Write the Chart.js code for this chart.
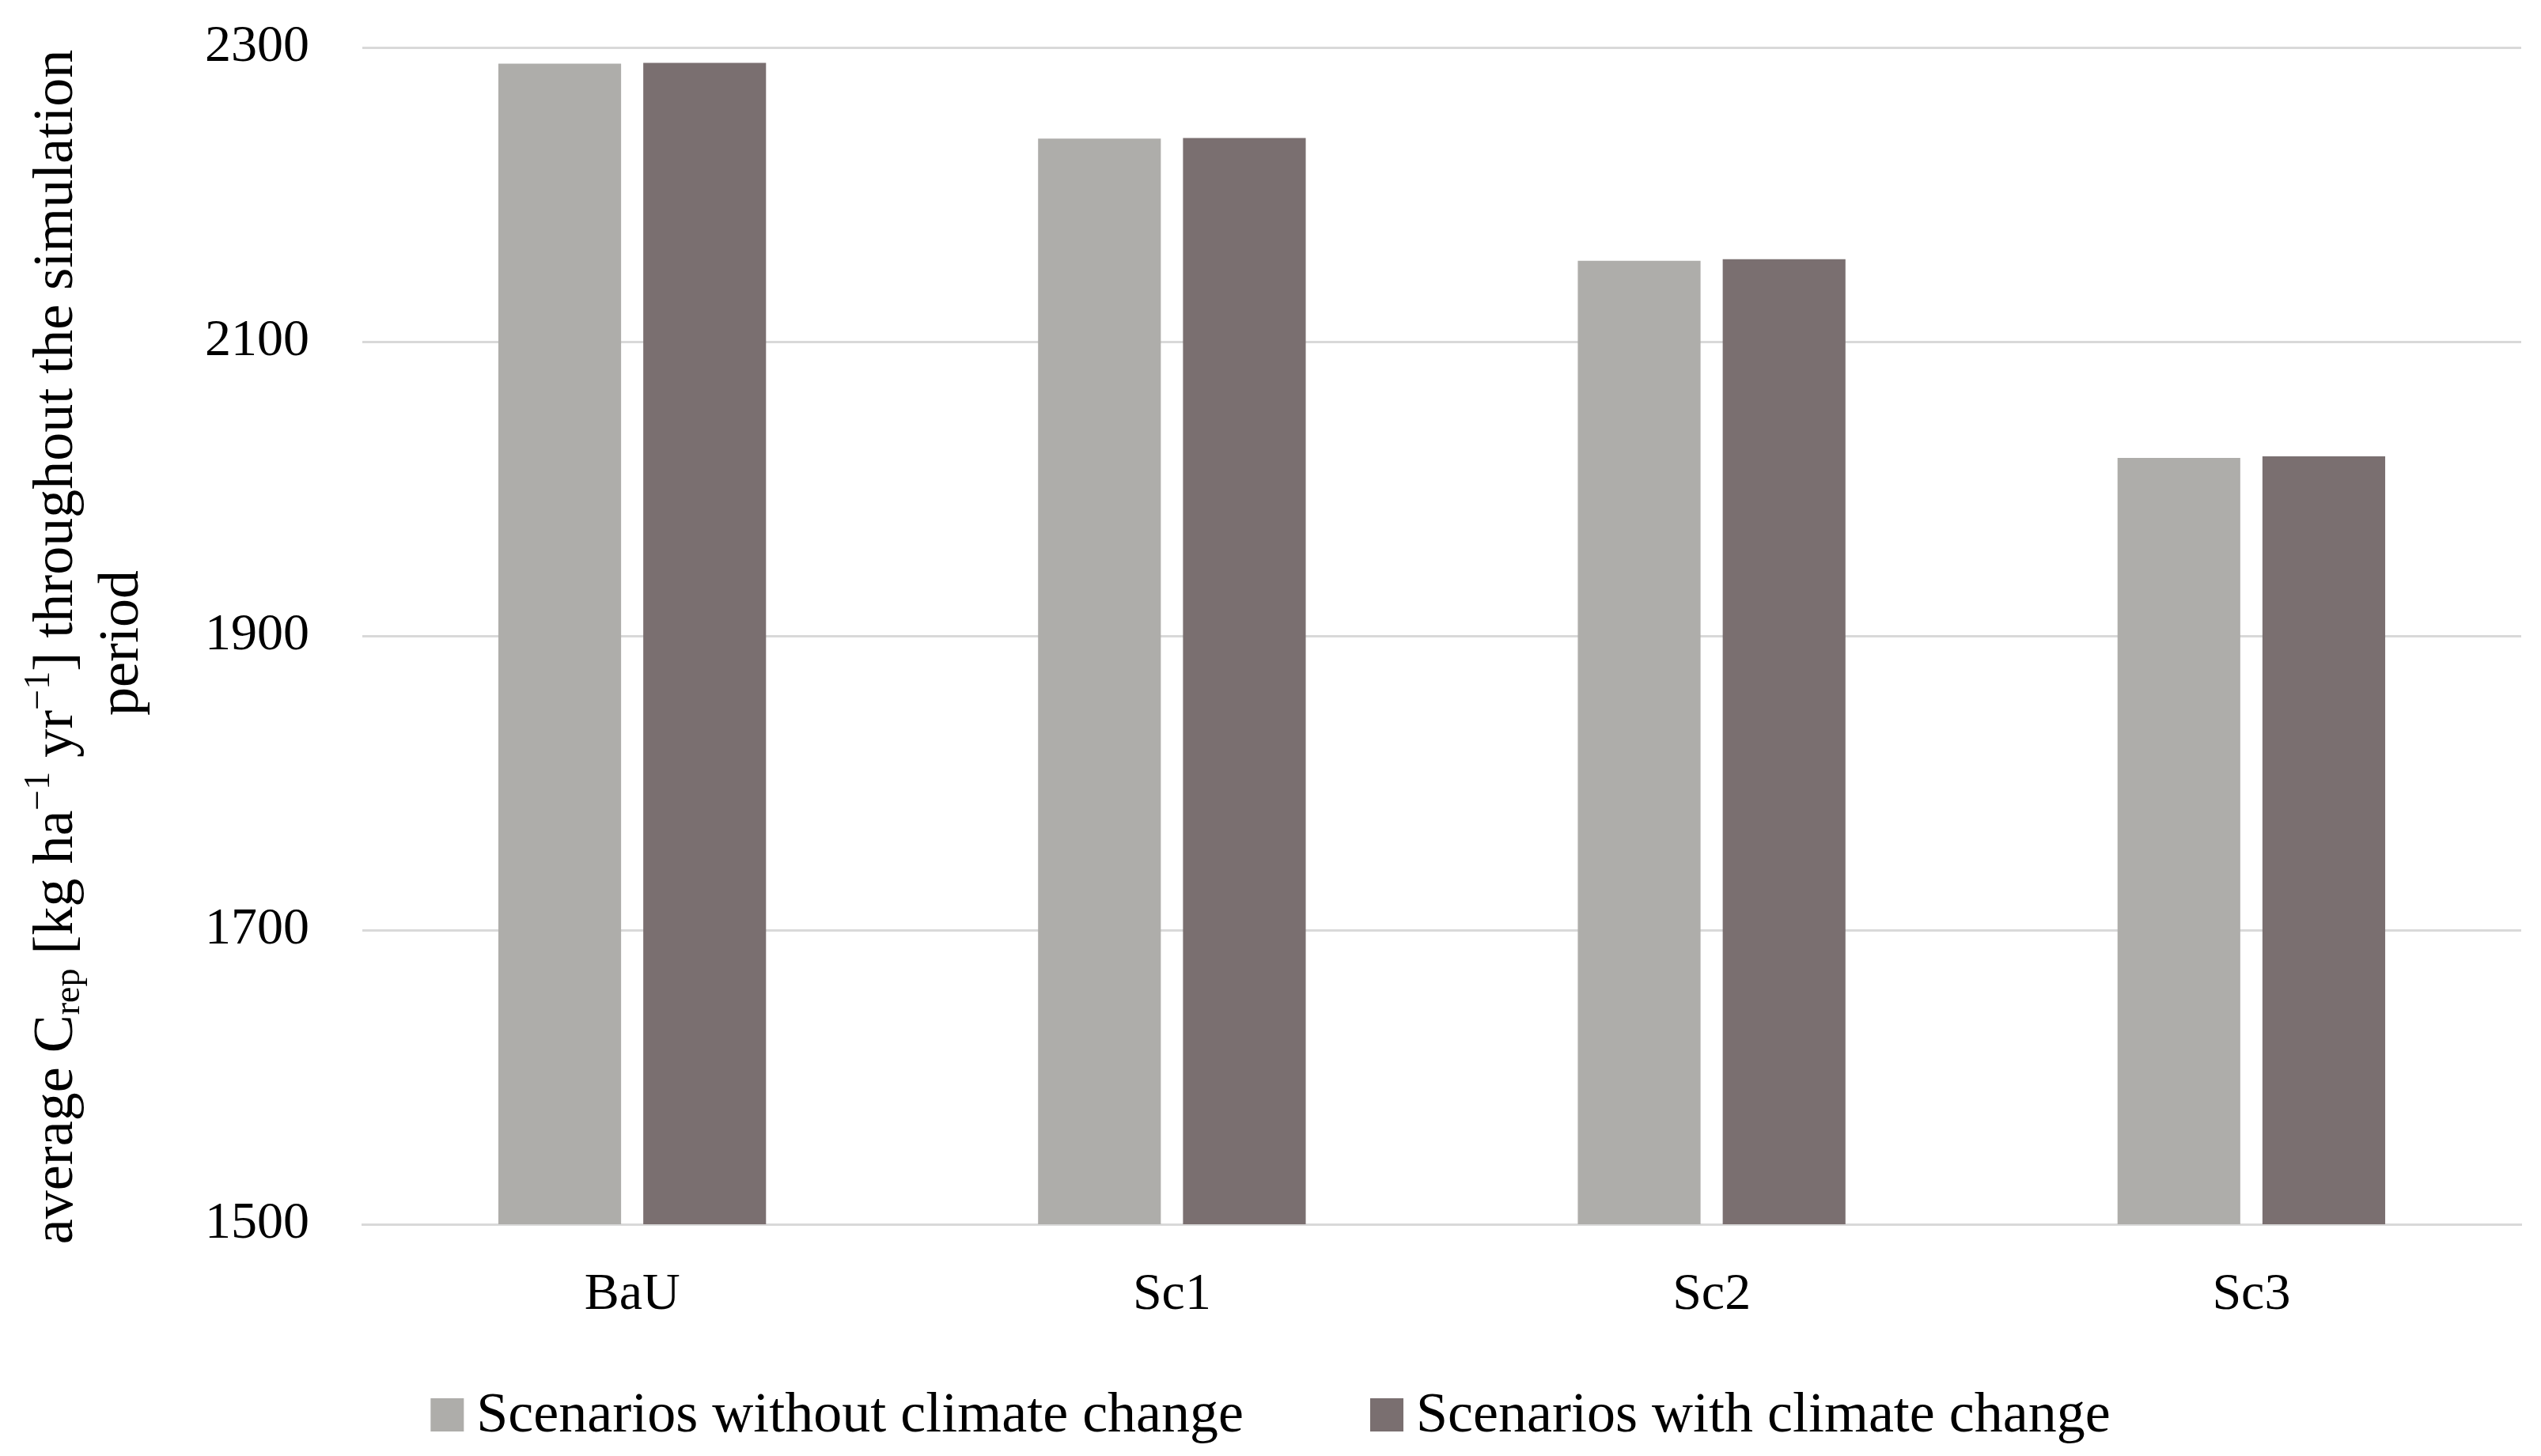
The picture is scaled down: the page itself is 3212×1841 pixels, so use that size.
<!DOCTYPE html>
<html>
<head>
<meta charset="utf-8">
<script src="https://cdn.jsdelivr.net/npm/chart.js@4/dist/chart.umd.min.js"></script>
<style>
html,body{margin:0;padding:0;background:#fff;}
#c{display:block;}
</style>
</head>
<body>
<canvas id="c" width="3212" height="1841"></canvas>
<script>
const categories = ["BaU", "Sc1", "Sc2", "Sc3"];
const withoutCC = [2289, 2238, 2155, 2021];
const withCC = [2289.5, 2238.5, 2156, 2022];
const seriesNames = ["Scenarios without climate change", "Scenarios with climate change"];
const seriesColors = ["#AEADAA", "#7A6F70"];
const yMin = 1500, yMax = 2300, yStep = 200;

const FONT = "'Liberation Serif', 'Times New Roman', serif";

const yTitlePlugin = {
  id: 'yTitle',
  afterDraw(chart) {
    const ctx = chart.ctx;
    const size = 72, small = 46;
    const segs = [
      {t: "average C", s: size, dy: 0},
      {t: "rep", s: small, dy: 16},
      {t: " [kg ha", s: size, dy: 0},
      {t: "\u22121", s: small, dy: -22},
      {t: " yr", s: size, dy: 0},
      {t: "\u22121", s: small, dy: -22},
      {t: "] throughout the simulation", s: size, dy: 0}
    ];
    ctx.save();
    ctx.fillStyle = '#000';
    ctx.textBaseline = 'middle';
    ctx.textAlign = 'left';
    ctx.translate(72, 818);
    ctx.rotate(-Math.PI / 2);
    let total = 0;
    segs.forEach(sg => { ctx.font = sg.s + 'px ' + FONT; sg.w = ctx.measureText(sg.t).width; total += sg.w; });
    let x = -total / 2;
    segs.forEach(sg => { ctx.font = sg.s + 'px ' + FONT; ctx.fillText(sg.t, x, sg.dy); x += sg.w; });
    ctx.restore();
    ctx.save();
    ctx.fillStyle = '#000';
    ctx.textBaseline = 'middle';
    ctx.textAlign = 'center';
    ctx.font = size + 'px ' + FONT;
    ctx.translate(155, 813);
    ctx.rotate(-Math.PI / 2);
    ctx.fillText("period", 0, 0);
    ctx.restore();
  }
};

const legendPlugin = {
  id: 'bottomLegend',
  afterDraw(chart) {
    const ctx = chart.ctx;
    const size = 72, box = 42, gapBoxText = 16, gapItems = 160;
    const cy = 1789;
    ctx.save();
    ctx.font = size + 'px ' + FONT;
    ctx.textBaseline = 'middle';
    ctx.textAlign = 'left';
    const items = chart.data.datasets.map(ds => ({t: ds.label, c: ds.backgroundColor, w: ctx.measureText(ds.label).width}));
    let total = 0;
    items.forEach((it, i) => { total += box + gapBoxText + it.w + (i ? gapItems : 0); });
    let x = chart.width / 2 - total / 2;
    items.forEach((it, i) => {
      if (i) x += gapItems;
      ctx.fillStyle = it.c;
      ctx.fillRect(x, cy - box / 2, box, box);
      x += box + gapBoxText;
      ctx.fillStyle = '#000';
      ctx.fillText(it.t, x, cy + 2);
      x += it.w;
    });
    ctx.restore();
  }
};

new Chart(document.getElementById('c'), {
  type: 'bar',
  data: {
    labels: categories,
    datasets: [
      {label: seriesNames[0], data: withoutCC, backgroundColor: seriesColors[0], categoryPercentage: 0.537, barPercentage: 0.847},
      {label: seriesNames[1], data: withCC, backgroundColor: seriesColors[1], categoryPercentage: 0.537, barPercentage: 0.847}
    ]
  },
  options: {
    responsive: false,
    animation: false,
    devicePixelRatio: 1,
    layout: {padding: {top: 60, right: 25, bottom: 96, left: 0}},
    plugins: {
      legend: {display: false},
      tooltip: {enabled: false}
    },
    scales: {
      x: {
        grid: {display: false, drawTicks: false},
        border: {display: true, color: '#D9D9D9', width: 3},
        ticks: {font: {family: FONT, size: 66}, color: '#000', padding: 50},
        afterFit(scale) { scale.height = 197; scale.paddingLeft = 0; scale.paddingRight = 0; }
      },
      y: {
        min: yMin, max: yMax,
        grid: {color: '#D9D9D9', lineWidth: 3, drawTicks: false},
        border: {display: false},
        ticks: {stepSize: yStep, font: {family: FONT, size: 66}, color: '#000', padding: 67,
          callback: v => String(v)},
        afterFit(scale) { scale.width = 458; scale.paddingTop = 0; scale.paddingBottom = 0; }
      }
    }
  },
  plugins: [yTitlePlugin, legendPlugin]
});
</script>
</body>
</html>
